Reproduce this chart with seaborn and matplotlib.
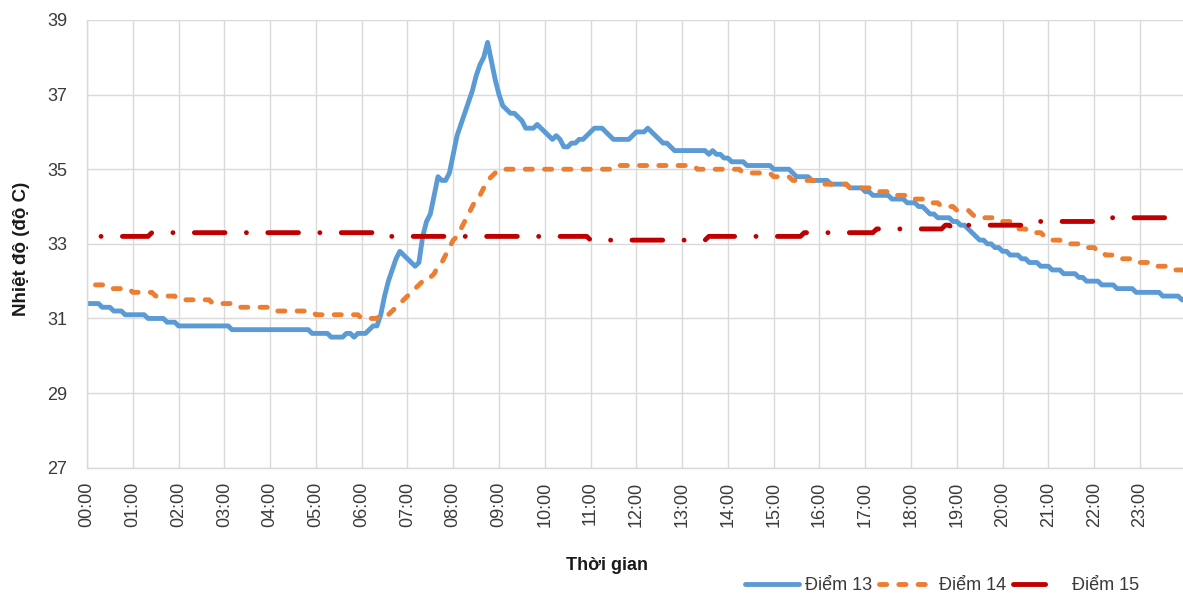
import numpy as np
import pandas as pd
import matplotlib
matplotlib.use("Agg")
import matplotlib.pyplot as plt
from matplotlib.lines import Line2D
import seaborn as sns

# Temperature readings every 5 minutes, 00:00 -> 24:00 (one line per hour)
diem_13 = [
    31.4, 31.4, 31.4, 31.4, 31.3, 31.3, 31.3, 31.2, 31.2, 31.2, 31.1, 31.1,
    31.1, 31.1, 31.1, 31.1, 31.0, 31.0, 31.0, 31.0, 31.0, 30.9, 30.9, 30.9,
    30.8, 30.8, 30.8, 30.8, 30.8, 30.8, 30.8, 30.8, 30.8, 30.8, 30.8, 30.8,
    30.8, 30.8, 30.7, 30.7, 30.7, 30.7, 30.7, 30.7, 30.7, 30.7, 30.7, 30.7,
    30.7, 30.7, 30.7, 30.7, 30.7, 30.7, 30.7, 30.7, 30.7, 30.7, 30.7, 30.6,
    30.6, 30.6, 30.6, 30.6, 30.5, 30.5, 30.5, 30.5, 30.6, 30.6, 30.5, 30.6,
    30.6, 30.6, 30.7, 30.8, 30.8, 31.1, 31.6, 32.0, 32.3, 32.6, 32.8, 32.7,
    32.6, 32.5, 32.4, 32.5, 33.2, 33.6, 33.8, 34.3, 34.8, 34.7, 34.7, 34.9,
    35.4, 35.9, 36.2, 36.5, 36.8, 37.1, 37.5, 37.8, 38.0, 38.4, 37.9, 37.4,
    37.0, 36.7, 36.6, 36.5, 36.5, 36.4, 36.3, 36.1, 36.1, 36.1, 36.2, 36.1,
    36.0, 35.9, 35.8, 35.9, 35.8, 35.6, 35.6, 35.7, 35.7, 35.8, 35.8, 35.9,
    36.0, 36.1, 36.1, 36.1, 36.0, 35.9, 35.8, 35.8, 35.8, 35.8, 35.8, 35.9,
    36.0, 36.0, 36.0, 36.1, 36.0, 35.9, 35.8, 35.7, 35.7, 35.6, 35.5, 35.5,
    35.5, 35.5, 35.5, 35.5, 35.5, 35.5, 35.5, 35.4, 35.5, 35.4, 35.4, 35.3,
    35.3, 35.2, 35.2, 35.2, 35.2, 35.1, 35.1, 35.1, 35.1, 35.1, 35.1, 35.1,
    35.0, 35.0, 35.0, 35.0, 35.0, 34.9, 34.8, 34.8, 34.8, 34.8, 34.7, 34.7,
    34.7, 34.7, 34.7, 34.6, 34.6, 34.6, 34.6, 34.6, 34.5, 34.5, 34.5, 34.5,
    34.4, 34.4, 34.3, 34.3, 34.3, 34.3, 34.3, 34.2, 34.2, 34.2, 34.2, 34.1,
    34.1, 34.1, 34.0, 34.0, 33.9, 33.8, 33.8, 33.7, 33.7, 33.7, 33.7, 33.6,
    33.6, 33.5, 33.5, 33.4, 33.3, 33.2, 33.1, 33.1, 33.0, 33.0, 32.9, 32.9,
    32.8, 32.8, 32.7, 32.7, 32.7, 32.6, 32.6, 32.5, 32.5, 32.5, 32.4, 32.4,
    32.4, 32.3, 32.3, 32.3, 32.2, 32.2, 32.2, 32.2, 32.1, 32.1, 32.0, 32.0,
    32.0, 32.0, 31.9, 31.9, 31.9, 31.9, 31.8, 31.8, 31.8, 31.8, 31.8, 31.7,
    31.7, 31.7, 31.7, 31.7, 31.7, 31.7, 31.6, 31.6, 31.6, 31.6, 31.6, 31.5,
    31.5,
]

diem_14 = [
    31.9, 31.9, 31.9, 31.9, 31.9, 31.9, 31.8, 31.8, 31.8, 31.8, 31.8, 31.8,
    31.7, 31.7, 31.7, 31.7, 31.7, 31.7, 31.6, 31.6, 31.6, 31.6, 31.6, 31.6,
    31.5, 31.5, 31.5, 31.5, 31.5, 31.5, 31.5, 31.5, 31.5, 31.4, 31.4, 31.4,
    31.4, 31.4, 31.4, 31.3, 31.3, 31.3, 31.3, 31.3, 31.3, 31.3, 31.3, 31.3,
    31.3, 31.2, 31.2, 31.2, 31.2, 31.2, 31.2, 31.2, 31.2, 31.2, 31.2, 31.2,
    31.1, 31.1, 31.1, 31.1, 31.1, 31.1, 31.1, 31.1, 31.1, 31.1, 31.1, 31.1,
    31.0, 31.0, 31.0, 31.0, 31.0, 31.1, 31.1, 31.1, 31.2, 31.3, 31.4, 31.5,
    31.6, 31.7, 31.8, 31.9, 32.0, 32.0, 32.1, 32.2, 32.4, 32.5, 32.7, 32.9,
    33.1, 33.2, 33.4, 33.6, 33.8, 34.0, 34.2, 34.3, 34.5, 34.7, 34.8, 34.9,
    35.0, 35.0, 35.0, 35.0, 35.0, 35.0, 35.0, 35.0, 35.0, 35.0, 35.0, 35.0,
    35.0, 35.0, 35.0, 35.0, 35.0, 35.0, 35.0, 35.0, 35.0, 35.0, 35.0, 35.0,
    35.0, 35.0, 35.0, 35.0, 35.0, 35.0, 35.1, 35.1, 35.1, 35.1, 35.1, 35.1,
    35.1, 35.1, 35.1, 35.1, 35.1, 35.1, 35.1, 35.1, 35.1, 35.1, 35.1, 35.1,
    35.1, 35.1, 35.1, 35.1, 35.0, 35.0, 35.0, 35.0, 35.0, 35.0, 35.0, 35.0,
    35.0, 35.0, 35.0, 35.0, 34.9, 34.9, 34.9, 34.9, 34.9, 34.9, 34.9, 34.9,
    34.8, 34.8, 34.8, 34.8, 34.8, 34.7, 34.7, 34.7, 34.7, 34.7, 34.7, 34.7,
    34.7, 34.6, 34.6, 34.6, 34.6, 34.6, 34.6, 34.6, 34.5, 34.5, 34.5, 34.5,
    34.5, 34.5, 34.4, 34.4, 34.4, 34.4, 34.4, 34.3, 34.3, 34.3, 34.3, 34.3,
    34.2, 34.2, 34.2, 34.2, 34.1, 34.1, 34.1, 34.1, 34.0, 34.0, 34.0, 34.0,
    33.9, 33.9, 33.9, 33.9, 33.8, 33.7, 33.7, 33.7, 33.7, 33.7, 33.7, 33.6,
    33.6, 33.6, 33.6, 33.5, 33.4, 33.4, 33.4, 33.3, 33.3, 33.3, 33.3, 33.2,
    33.1, 33.1, 33.1, 33.1, 33.0, 33.0, 33.0, 33.0, 33.0, 32.9, 32.9, 32.9,
    32.9, 32.8, 32.8, 32.7, 32.7, 32.7, 32.7, 32.6, 32.6, 32.6, 32.6, 32.6,
    32.5, 32.5, 32.5, 32.5, 32.4, 32.4, 32.4, 32.4, 32.4, 32.3, 32.3, 32.3,
    32.3,
]

diem_15 = [
    33.2, 33.2, 33.2, 33.2, 33.2, 33.2, 33.2, 33.2, 33.2, 33.2, 33.2, 33.2,
    33.2, 33.2, 33.2, 33.2, 33.2, 33.3, 33.3, 33.3, 33.3, 33.3, 33.3, 33.3,
    33.3, 33.3, 33.3, 33.3, 33.3, 33.3, 33.3, 33.3, 33.3, 33.3, 33.3, 33.3,
    33.3, 33.3, 33.3, 33.3, 33.3, 33.3, 33.3, 33.3, 33.3, 33.3, 33.3, 33.3,
    33.3, 33.3, 33.3, 33.3, 33.3, 33.3, 33.3, 33.3, 33.3, 33.3, 33.3, 33.3,
    33.3, 33.3, 33.3, 33.3, 33.3, 33.3, 33.3, 33.3, 33.3, 33.3, 33.3, 33.3,
    33.3, 33.3, 33.3, 33.3, 33.3, 33.3, 33.2, 33.2, 33.2, 33.2, 33.2, 33.2,
    33.2, 33.2, 33.2, 33.2, 33.2, 33.2, 33.2, 33.2, 33.2, 33.2, 33.2, 33.2,
    33.2, 33.2, 33.2, 33.2, 33.2, 33.2, 33.2, 33.2, 33.2, 33.2, 33.2, 33.2,
    33.2, 33.2, 33.2, 33.2, 33.2, 33.2, 33.2, 33.2, 33.2, 33.2, 33.2, 33.2,
    33.2, 33.2, 33.2, 33.2, 33.2, 33.2, 33.2, 33.2, 33.2, 33.2, 33.2, 33.2,
    33.1, 33.1, 33.1, 33.1, 33.1, 33.1, 33.1, 33.1, 33.1, 33.1, 33.1, 33.1,
    33.1, 33.1, 33.1, 33.1, 33.1, 33.1, 33.1, 33.1, 33.1, 33.1, 33.1, 33.1,
    33.1, 33.1, 33.1, 33.1, 33.1, 33.1, 33.1, 33.2, 33.2, 33.2, 33.2, 33.2,
    33.2, 33.2, 33.2, 33.2, 33.2, 33.2, 33.2, 33.2, 33.2, 33.2, 33.2, 33.2,
    33.2, 33.2, 33.2, 33.2, 33.2, 33.2, 33.2, 33.2, 33.3, 33.3, 33.3, 33.3,
    33.3, 33.3, 33.3, 33.3, 33.3, 33.3, 33.3, 33.3, 33.3, 33.3, 33.3, 33.3,
    33.3, 33.3, 33.3, 33.4, 33.4, 33.4, 33.4, 33.4, 33.4, 33.4, 33.4, 33.4,
    33.4, 33.4, 33.4, 33.4, 33.4, 33.4, 33.4, 33.4, 33.4, 33.5, 33.5, 33.4,
    33.5, 33.5, 33.5, 33.5, 33.5, 33.5, 33.5, 33.5, 33.5, 33.5, 33.5, 33.5,
    33.5, 33.5, 33.5, 33.5, 33.5, 33.5, 33.6, 33.6, 33.6, 33.6, 33.6, 33.6,
    33.6, 33.6, 33.6, 33.6, 33.6, 33.6, 33.6, 33.6, 33.6, 33.6, 33.6, 33.6,
    33.6, 33.6, 33.6, 33.7, 33.7, 33.7, 33.7, 33.7, 33.7, 33.7, 33.7, 33.7,
    33.7, 33.7, 33.7, 33.7, 33.7, 33.7, 33.7, 33.7, 33.7, 33.7, 33.7, 33.7,
    33.7,
]

series_names = ["Điểm 13", "Điểm 14", "Điểm 15"]
series_values = [diem_13, diem_14, diem_15]
series_colors = ["#5B9BD5", "#ED7D31", "#C00000"]

hour_ticks = list(range(24))
hour_labels = [
    "00:00", "01:00", "02:00", "03:00", "04:00", "05:00",
    "06:00", "07:00", "08:00", "09:00", "10:00", "11:00",
    "12:00", "13:00", "14:00", "15:00", "16:00", "17:00",
    "18:00", "19:00", "20:00", "21:00", "22:00", "23:00",
]
temp_ticks = [27, 29, 31, 33, 35, 37, 39]

# Long-form table: hour of day (5-minute sampling) and temperature per point
frames = []
for name, vals in zip(series_names, series_values):
    hours = np.arange(len(vals)) * 5 / 60.0
    frames.append(pd.DataFrame({"gio": hours, "nhiet_do": vals, "diem": name}))
df = pd.concat(frames, ignore_index=True)

sns.set_theme(style="white")
plt.rcParams["font.family"] = ["Liberation Sans", "DejaVu Sans"]

W, H = 1183, 596
fig = plt.figure(figsize=(W / 100, H / 100), dpi=100)
fig.patch.set_facecolor("white")
# plot area: x=0h at 87px, 45.78px per hour; y 27..39 between 467.7px and 20px
ax = fig.add_axes([87 / W, (H - 467.7) / H, 24 * 45.78 / W, 447.7 / H])

LW = 3.5
line_styles = [
    "solid",
    (2.23, (1.47, 2.50)),                      # short dashes
    (7.82, (6.30, 4.40, 0.01, 4.40)),          # long dash - dot
]

for name, color, ls in zip(series_names, series_colors, line_styles):
    sns.lineplot(
        data=df[df["diem"] == name], x="gio", y="nhiet_do",
        color=color, linewidth=LW, estimator=None, errorbar=None,
        legend=False, ax=ax,
    )
    line = ax.lines[-1]
    line.set_linestyle(ls)
    line.set_dash_capstyle("round")
    line.set_solid_capstyle("round")
    line.set_solid_joinstyle("round")
    line.set_dash_joinstyle("round")

ax.set_xlim(0, 24)
ax.set_ylim(27, 39)
ax.set_xticks(hour_ticks)
ax.set_xticklabels(hour_labels, rotation=90)
ax.set_yticks(temp_ticks)

grid_color = "#D9D9D9"
ax.grid(True, color=grid_color, linewidth=1.0)
ax.set_axisbelow(True)
for side in ["top", "right"]:
    ax.spines[side].set_visible(False)
for side in ["left", "bottom"]:
    ax.spines[side].set_color(grid_color)
    ax.spines[side].set_linewidth(1.0)

tick_color = "#3A3A3A"
ax.tick_params(axis="y", length=0, pad=14.4, labelsize=13, labelcolor=tick_color)
ax.tick_params(axis="x", length=0, pad=10.0, labelsize=13, labelcolor=tick_color)

ax.set_xlabel("Thời gian", fontsize=13, fontweight="bold", color="#1A1A1A")
ax.xaxis.label.set_verticalalignment("center")
ax.xaxis.set_label_coords((607 - 87) / (24 * 45.78), (467.7 - 566) / 447.7)

ax.set_ylabel("Nhiệt độ (độ C)", fontsize=13.5, fontweight="bold", color="#1A1A1A")
ax.yaxis.label.set_verticalalignment("center")
ax.yaxis.set_label_coords((21 - 87) / (24 * 45.78), (467.7 - 249) / 447.7)

# Legend below the plot, right side
handles = [
    Line2D([], [], color=series_colors[0], linewidth=LW, solid_capstyle="round"),
    Line2D([], [], color=series_colors[1], linewidth=LW,
           linestyle=(0, (1.47, 2.50)), dash_capstyle="round"),
    Line2D([], [], color=series_colors[2], linewidth=LW,
           linestyle=(0, (6.6, 20)), dash_capstyle="round"),
]
leg = fig.legend(
    handles, series_names, loc="center left",
    bbox_to_anchor=(745 / W, 1 - 585.5 / H), ncol=3, frameon=False,
    fontsize=13, handlelength=3.0, handletextpad=0.3, columnspacing=0.4,
    borderpad=0, borderaxespad=0,
)
for t in leg.get_texts():
    t.set_color(tick_color)

fig.savefig("out.png", dpi=100)
